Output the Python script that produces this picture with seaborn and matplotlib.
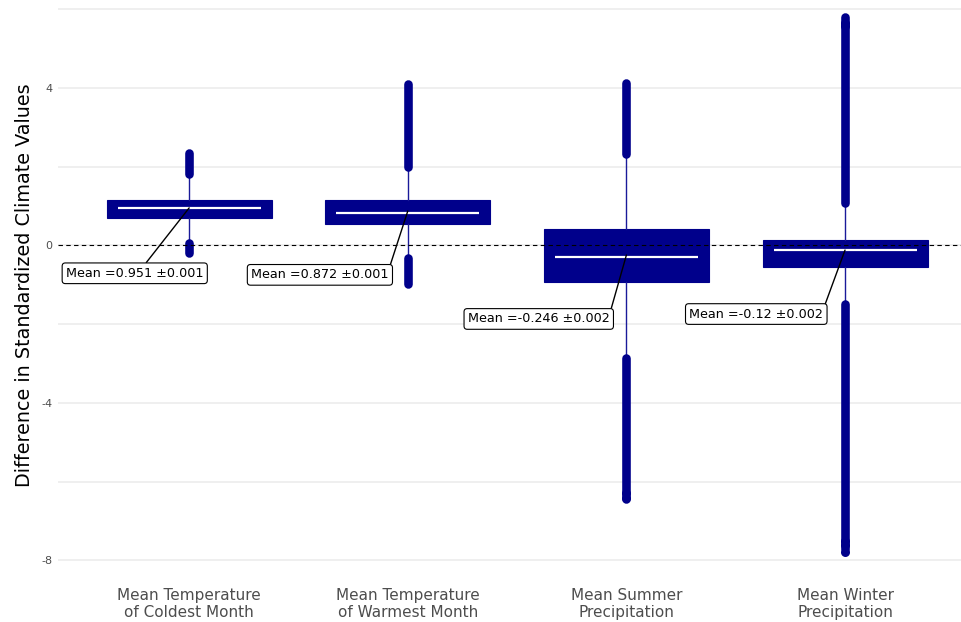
import matplotlib
matplotlib.use("Agg")
import matplotlib.pyplot as plt
import seaborn as sns
import pandas as pd
import numpy as np

# ---- data ----
categories = ["Mean Temperature\nof Coldest Month",
              "Mean Temperature\nof Warmest Month",
              "Mean Summer\nPrecipitation",
              "Mean Winter\nPrecipitation"]
q1 = [0.70, 0.54, -0.92, -0.55]
median = [0.944, 0.83, -0.29, -0.13]
q3 = [1.155, 1.155, 0.41, 0.14]
whisker_lo = [0.10, -0.27, -2.80, -1.47]
whisker_hi = [1.78, 1.96, 2.28, 1.03]
# outlier runs (dense columns of points): low run and high run per category
out_lo_min = [-0.20, -0.98, -6.45, -7.72]
out_lo_max = [0.05, -0.32, -2.85, -1.50]
out_hi_min = [1.82, 2.00, 2.33, 1.08]
out_hi_max = [2.35, 4.10, 4.12, 5.80]
isolated_outliers = [[], [], [-6.30, -6.42], [-7.50, -7.62, -7.80, 5.65, 5.58]]
means = [0.951, 0.872, -0.246, -0.12]
mean_se = ["0.001", "0.001", "0.002", "0.002"]
mean_text = ["0.951", "0.872", "-0.246", "-0.12"]
label_x = [0.751, 1.598, 2.599, 3.594]
label_y = [-0.71, -0.75, -1.87, -1.745]
yticks = [-8, -4, 0, 4]

navy = "#00008B"

sns.set_theme(style="whitegrid")
plt.rcParams['font.family'] = ['DejaVu Sans']

fig = plt.figure(figsize=(9.62, 6.22), dpi=100)
ax = fig.add_axes([58/962, 1 - 582/622, 1 - 58/962, 582/622])

positions = np.arange(1, len(categories) + 1)
stats = []
for i in range(len(categories)):
    stats.append(dict(med=median[i], q1=q1[i], q3=q3[i],
                      whislo=whisker_lo[i], whishi=whisker_hi[i],
                      fliers=[], label=categories[i]))

ax.bxp(stats, positions=positions, widths=0.755, patch_artist=True,
       showcaps=False, showfliers=False,
       boxprops=dict(facecolor=navy, edgecolor=navy, linewidth=0.8),
       whiskerprops=dict(color="#1a1a99", linewidth=1.0),
       medianprops=dict(color=navy, linewidth=0), zorder=2)

# median lines (white, narrower than the box)
ax.hlines(median, positions - 0.327, positions + 0.327, colors="white",
          linewidth=1.6, zorder=3)

# dense outlier columns
ax.vlines(positions, out_lo_min, out_lo_max, colors=navy, linewidth=6.2,
          capstyle="round", zorder=2)
ax.vlines(positions, out_hi_min, out_hi_max, colors=navy, linewidth=6.2,
          capstyle="round", zorder=2)
pts_x, pts_y = [], []
for i, vals in enumerate(isolated_outliers):
    for v in vals:
        pts_x.append(positions[i]); pts_y.append(v)
df_pts = pd.DataFrame({"x": pts_x, "y": pts_y})
sns.scatterplot(data=df_pts, x="x", y="y", ax=ax, color=navy, s=42,
                edgecolor=navy, linewidth=0, zorder=2, legend=False)

# reference line
ax.axhline(0, color="black", linestyle=(0, (4, 3)), linewidth=0.8, zorder=4)

# mean labels
relpos = [(0.56, 1.0), (1.0, 0.88), (1.0, 0.87), (1.0, 0.85)]
for i in range(len(categories)):
    ax.annotate(f"Mean ={mean_text[i]} \u00b1{mean_se[i]}",
                xy=(positions[i], means[i]), xytext=(label_x[i], label_y[i]),
                ha="center", va="center", fontsize=9.2, color="black",
                bbox=dict(boxstyle="round,pad=0.3,rounding_size=0.25",
                          facecolor="white", edgecolor="black", linewidth=0.8),
                arrowprops=dict(arrowstyle="-", color="black", linewidth=1.0,
                                shrinkA=0, shrinkB=0, relpos=relpos[i]),
                zorder=5)

ax.set_xlim(0.40, 4.535)
ax.set_ylim(-8.55, 6.23)
ax.set_xticks(positions)
ax.set_xticklabels(categories, fontsize=11, color="#4D4D4D", linespacing=1.2)
ax.set_yticks(yticks)
ax.set_yticks([-6, -2, 2, 6], minor=True)
ax.set_yticklabels([str(t) for t in yticks], fontsize=8, color="#4D4D4D")
ax.tick_params(axis="x", length=0, pad=4)
ax.tick_params(axis="y", length=0, pad=4)
ax.grid(axis="x", visible=False)
ax.grid(axis="y", which="major", color="#EBEBEB", linewidth=1.1)
ax.grid(axis="y", which="minor", color="#EBEBEB", linewidth=1.1)
ax.set_axisbelow(True)
ax.set_facecolor("white")
sns.despine(ax=ax, left=True, bottom=True)
ax.set_xlabel("")
ax.set_ylabel("Difference in Standardized Climate Values", fontsize=13.8,
              color="black")
ax.yaxis.set_label_coords(-0.027, 0.51)

fig.savefig("out.png", dpi=100, facecolor="white")
